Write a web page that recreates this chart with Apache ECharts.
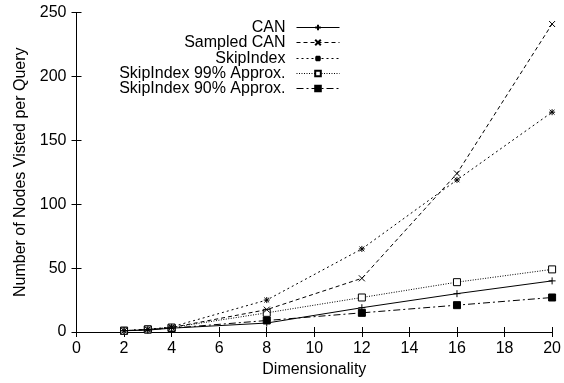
<!DOCTYPE html>
<html>
<head>
<meta charset="utf-8">
<script src="https://cdn.jsdelivr.net/npm/echarts@6/dist/echarts.min.js"></script>
<style>
  html, body { margin: 0; padding: 0; background: #fff; }
  #chart { width: 564px; height: 383px; }
</style>
</head>
<body>
<div id="chart"></div>
<script>
// 数据
const dims = [2, 3, 4, 8, 12, 16, 20];
const can = [1, 1.5, 3, 7, 19, 30, 40];
const sampledCan = [1, 2, 3.5, 17.5, 42, 124, 241];
const skipIndex = [1, 2, 4, 25, 65, 119, 172];
const skip99 = [1, 2, 3.5, 15, 27, 39, 49];
const skip90 = [1, 2, 3, 9, 15, 21, 27];

const seriesNames = ["CAN", "Sampled CAN", "SkipIndex", "SkipIndex 99% Approx.", "SkipIndex 90% Approx."];
const xTicks = [0, 2, 4, 6, 8, 10, 12, 14, 16, 18, 20];
const yTicks = [0, 50, 100, 150, 200, 250];

const FONT = "Liberation Sans, Arial, sans-serif";
const FONT_SIZE = 16;

// 点的形状
const SYM_PLUS = "path://M0,5L10,5M5,0L5,10";
const SYM_CROSS = "path://M0,0L10,10M10,0L0,10";
const SYM_STAR = "path://M0,5L10,5M5,0L5,10M1,1L9,9M9,1L1,9";

const styles = [
  { data: can, symbol: SYM_PLUS, size: 7, dash: "solid", fill: "none" },
  { data: sampledCan, symbol: SYM_CROSS, size: 6, dash: [4, 3], fill: "none" },
  { data: skipIndex, symbol: SYM_STAR, size: 6, dash: [2, 3], fill: "none" },
  { data: skip99, symbol: "rect", size: 7, dash: [1, 1.5], fill: "#fff" },
  { data: skip90, symbol: "rect", size: 7, dash: [7, 3, 2, 3], fill: "#000" },
];

const chart = echarts.init(document.getElementById("chart"));

const series = styles.map((s, i) => ({
  name: seriesNames[i],
  type: "line",
  data: dims.map((d, j) => [d, s.data[j]]),
  symbol: s.symbol,
  symbolSize: s.size,
  showAllSymbol: true,
  animation: false,
  lineStyle: { color: "#000", width: 1, type: s.dash },
  itemStyle: { color: s.fill, borderColor: "#000", borderWidth: 1 },
  z: 10 - i,
}));

// 每个图例单独放，文字右对齐
const legends = seriesNames.map((name, i) => ({
  data: [name],
  orient: "vertical",
  align: "right",
  right: 224,
  top: Math.round(19 + i * 15.25) + 0.5,
  itemWidth: 43,
  itemHeight: 7,
  itemGap: 0,
  padding: 0,
  selectedMode: false,
  lineStyle: { width: 1 },
  textStyle: { fontFamily: FONT, fontSize: FONT_SIZE, color: "#000", padding: [0, 6, 0, 0] },
}));

const axisCommon = {
  type: "value",
  splitLine: { show: false },
  axisLine: { show: true, lineStyle: { color: "#000", width: 1 } },
  axisTick: { show: true, inside: true, length: 5, lineStyle: { color: "#000" } },
};

chart.setOption({
  animation: false,
  backgroundColor: "#fff",
  grid: { left: 76.5, right: 11.5, top: 12.5, bottom: 51 },
  legend: legends,
  xAxis: [
    {
      ...axisCommon,
      min: xTicks[0],
      max: xTicks[xTicks.length - 1],
      interval: 2,
      name: "Dimensionality",
      nameLocation: "middle",
      nameGap: 30,
      nameTextStyle: { fontFamily: FONT, fontSize: FONT_SIZE, color: "#000" },
      axisLabel: { fontFamily: FONT, fontSize: FONT_SIZE, color: "#000", margin: 9 },
    },
    {
      ...axisCommon,
      position: "top",
      min: xTicks[0],
      max: xTicks[xTicks.length - 1],
      interval: 2,
      axisLabel: { show: false },
    },
  ],
  yAxis: [
    {
      ...axisCommon,
      min: yTicks[0],
      max: yTicks[yTicks.length - 1],
      interval: 50,
      name: "Number of Nodes Visted per Query",
      nameLocation: "middle",
      nameGap: 48,
      nameTextStyle: { fontFamily: FONT, fontSize: FONT_SIZE, color: "#000" },
      axisLabel: { fontFamily: FONT, fontSize: FONT_SIZE, color: "#000", margin: 10 },
    },
    {
      ...axisCommon,
      position: "right",
      min: yTicks[0],
      max: yTicks[yTicks.length - 1],
      interval: 50,
      axisLabel: { show: false },
    },
  ],
  series: series,
});
</script>
</body>
</html>
